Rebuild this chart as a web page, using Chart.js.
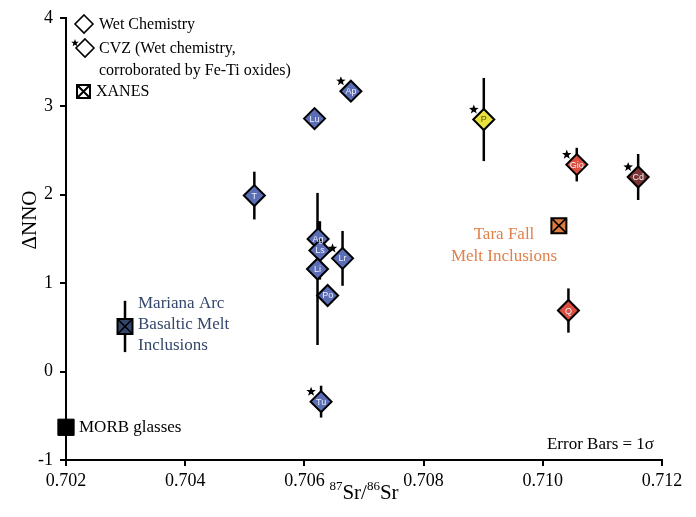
<!DOCTYPE html>
<html lang="en">
<head>
  <meta charset="UTF-8" />
  <title>ΔNNO vs 87Sr/86Sr</title>
  <script src="https://cdn.jsdelivr.net/npm/chart.js"></script>
  <style>
    body { margin:0; background:#fff; }
    #wrap { width:696px; height:517px; position:relative; }
  </style>
</head>
<body>
  <div id="wrap"><canvas id="chart" width="696" height="517"></canvas></div>

  <script>
    // wet chemistry samples (diamonds)
    const sampleCodes = ['T', 'Lu', 'Ap', 'Ag', 'Ls', 'Li', 'Lr', 'Po', 'Tu', 'P', 'Gio', 'Cd', 'Q'];
    const sampleSr    = [0.70516, 0.70617, 0.70678, 0.70623, 0.70626, 0.70622, 0.70664, 0.70639, 0.70628, 0.70901, 0.71057, 0.71160, 0.71043];
    const sampleNNO   = [1.99, 2.86, 3.17, 1.50, 1.37, 1.16, 1.28, 0.86, -0.34, 2.85, 2.34, 2.20, 0.69];
    const sampleErr   = [0.27, null, null, 0.20, 0.33, 0.86, 0.31, null, 0.18, 0.47, 0.19, 0.26, 0.25];
    const sampleCVZ   = [false, false, true, false, false, false, true, false, true, true, true, true, false];

    // XANES melt inclusions (crossed squares)
    const xanesNames = ['Mariana Arc', 'Tara Fall'];
    const xanesSr    = [0.70299, 0.71027];
    const xanesNNO   = [0.51, 1.65];
    const xanesErr   = [0.29, null];

    // MORB glasses
    const morbSr  = [0.7020];
    const morbNNO = [-0.63];

    const xTicks = [0.702, 0.704, 0.706, 0.708, 0.710, 0.712];
    const yTicks = [-1, 0, 1, 2, 3, 4];

    // styles
    const BLUE = '#5a6db5', RED = '#dc4f3f', DARKRED = '#7b3434', YELLOW = '#e9e23c';
    const sampleFill = [BLUE, BLUE, BLUE, BLUE, BLUE, BLUE, BLUE, BLUE, BLUE, YELLOW, RED, DARKRED, RED];
    const xanesFill  = ['#33466a', '#e07b3e'];
    const SERIF = '"Liberation Serif", "Times New Roman", serif';

    function star(ctx, x, y, r) {
      ctx.beginPath();
      for (let i = 0; i < 10; i++) {
        const a = -Math.PI / 2 + i * Math.PI / 5;
        const rr = i % 2 ? r * 0.42 : r;
        ctx.lineTo(x + rr * Math.cos(a), y + rr * Math.sin(a));
      }
      ctx.closePath();
      ctx.fillStyle = '#000';
      ctx.fill();
    }

    function diamond(ctx, x, y, r) {
      ctx.beginPath();
      ctx.moveTo(x, y - r); ctx.lineTo(x + r, y); ctx.lineTo(x, y + r); ctx.lineTo(x - r, y);
      ctx.closePath();
    }

    const errorBars = {
      id: 'errorBars',
      beforeDatasetsDraw(chart) {
        const { ctx, scales: { x, y } } = chart;
        ctx.save();
        ctx.strokeStyle = '#000';
        ctx.lineWidth = 2.5;
        const bar = (sx, v, e) => {
          if (e == null) return;
          const px = x.getPixelForValue(sx);
          ctx.beginPath();
          ctx.moveTo(px, y.getPixelForValue(v + e));
          ctx.lineTo(px, y.getPixelForValue(v - e));
          ctx.stroke();
        };
        sampleSr.forEach((s, i) => bar(s, sampleNNO[i], sampleErr[i]));
        xanesSr.forEach((s, i) => bar(s, xanesNNO[i], xanesErr[i]));
        ctx.restore();
      }
    };

    const decorations = {
      id: 'decorations',
      afterDatasetsDraw(chart) {
        const { ctx, chartArea: ca } = chart;
        const meta = chart.getDatasetMeta(0);
        ctx.save();

        // codes inside diamonds + CVZ stars
        ctx.textAlign = 'center';
        ctx.textBaseline = 'middle';
        ctx.font = '9px "Liberation Sans", Arial, sans-serif';
        meta.data.forEach((pt, i) => {
          ctx.fillStyle = sampleFill[i] === YELLOW ? '#5c5718' : '#eef0fa';
          ctx.fillText(sampleCodes[i], pt.x, pt.y + 0.5);
          if (sampleCVZ[i]) star(ctx, pt.x - 10, pt.y - 10, 5);
        });

        // annotations
        ctx.font = '17px ' + SERIF;
        ctx.textAlign = 'left';
        ctx.fillStyle = '#34476a';
        ['Mariana Arc', 'Basaltic Melt', 'Inclusions'].forEach((t, k) => ctx.fillText(t, 138, 304 + k * 21));
        ctx.fillStyle = '#e0804a';
        ctx.textAlign = 'center';
        ctx.fillText('Tara Fall', 504, 235);
        ctx.fillText('Melt Inclusions', 504, 257);
        ctx.fillStyle = '#000';
        ctx.textAlign = 'left';
        ctx.fillText('MORB glasses', 79, 428);
        ctx.textAlign = 'right';
        ctx.fillText('Error Bars = 1\u03c3', 654, 445);

        // legend
        ctx.font = '16px ' + SERIF;
        ctx.textAlign = 'left';
        ctx.strokeStyle = '#000';
        ctx.lineWidth = 1.6;
        diamond(ctx, 84, 24, 9); ctx.fillStyle = '#fff'; ctx.fill(); ctx.stroke();
        ctx.fillStyle = '#000';
        ctx.fillText('Wet Chemistry', 99, 25);
        diamond(ctx, 85, 48, 9); ctx.fillStyle = '#fff'; ctx.fill(); ctx.stroke();
        star(ctx, 75, 43, 4);
        ctx.fillStyle = '#000';
        ctx.fillText('CVZ (Wet chemistry,', 99, 49);
        ctx.fillText('corroborated by Fe-Ti oxides)', 99, 71);
        ctx.lineWidth = 2;
        ctx.strokeRect(77, 85, 13, 13);
        ctx.beginPath();
        ctx.moveTo(77, 85); ctx.lineTo(90, 98); ctx.moveTo(90, 85); ctx.lineTo(77, 98);
        ctx.stroke();
        ctx.fillText('XANES', 96, 92);

        // axis titles
        ctx.font = '21px ' + SERIF;
        ctx.save();
        ctx.translate(30, 220);
        ctx.rotate(-Math.PI / 2);
        ctx.textAlign = 'center';
        ctx.fillText('\u0394NNO', 0, 0);
        ctx.restore();

        const parts = [['87', true], ['Sr/', false], ['86', true], ['Sr', false]];
        const supFont = '13px ' + SERIF, mainFont = '21px ' + SERIF;
        let w = 0;
        parts.forEach(([t, sup]) => { ctx.font = sup ? supFont : mainFont; w += ctx.measureText(t).width; });
        let cx = (ca.left + ca.right) / 2 - w / 2;
        ctx.textAlign = 'left';
        ctx.textBaseline = 'alphabetic';
        parts.forEach(([t, sup]) => {
          ctx.font = sup ? supFont : mainFont;
          ctx.fillText(t, cx, sup ? 490 : 499);
          cx += ctx.measureText(t).width;
        });

        ctx.restore();
      }
    };

    const axisStyle = {
      border: { display: true, color: '#000', width: 2 },
      grid: { display: true, drawOnChartArea: false, drawTicks: true, tickLength: 6, color: '#000', lineWidth: 2 }
    };

    new Chart(document.getElementById('chart'), {
      type: 'scatter',
      data: {
        datasets: [
          {
            label: 'Wet Chemistry',
            data: sampleSr.map((s, i) => ({ x: s, y: sampleNNO[i] })),
            pointStyle: 'rectRot',
            pointRadius: 10.5,
            backgroundColor: sampleFill,
            borderColor: '#000',
            borderWidth: 2,
            order: 0
          },
          {
            label: 'XANES',
            data: xanesSr.map((s, i) => ({ x: s, y: xanesNNO[i] })),
            pointStyle: 'rect',
            pointRadius: 10.6,
            backgroundColor: xanesFill,
            borderColor: '#000',
            borderWidth: 2,
            order: 2
          },
          {
            label: 'XANES cross',
            data: xanesSr.map((s, i) => ({ x: s, y: xanesNNO[i] })),
            pointStyle: 'crossRot',
            pointRadius: 10.6,
            borderColor: '#000',
            borderWidth: 1.6,
            order: 1
          },
          {
            label: 'MORB glasses',
            data: morbSr.map((s, i) => ({ x: s, y: morbNNO[i] })),
            pointStyle: 'rect',
            pointRadius: 11.5,
            backgroundColor: '#000',
            borderColor: '#000',
            borderWidth: 1,
            order: 3
          }
        ]
      },
      options: {
        responsive: false,
        animation: false,
        clip: false,
        layout: { padding: { top: 13, right: 34, left: 0, bottom: 0 } },
        plugins: { legend: { display: false }, tooltip: { enabled: false } },
        scales: {
          x: {
            type: 'linear',
            min: xTicks[0],
            max: xTicks[xTicks.length - 1],
            afterFit: s => { s.height = 57; },
            afterBuildTicks: s => { s.ticks = xTicks.map(v => ({ value: v })); },
            ticks: {
              color: '#000',
              padding: 4,
              maxRotation: 0,
              font: { family: SERIF, size: 18 },
              callback: v => v.toFixed(3)
            },
            ...axisStyle
          },
          y: {
            type: 'linear',
            min: yTicks[0],
            max: yTicks[yTicks.length - 1],
            afterFit: s => { s.width = 66; },
            afterBuildTicks: s => { s.ticks = yTicks.map(v => ({ value: v })); },
            ticks: {
              color: '#000',
              padding: 7,
              font: { family: SERIF, size: 18 },
              callback: v => String(v)
            },
            ...axisStyle
          }
        }
      },
      plugins: [errorBars, decorations]
    });
  </script>
</body>
</html>
